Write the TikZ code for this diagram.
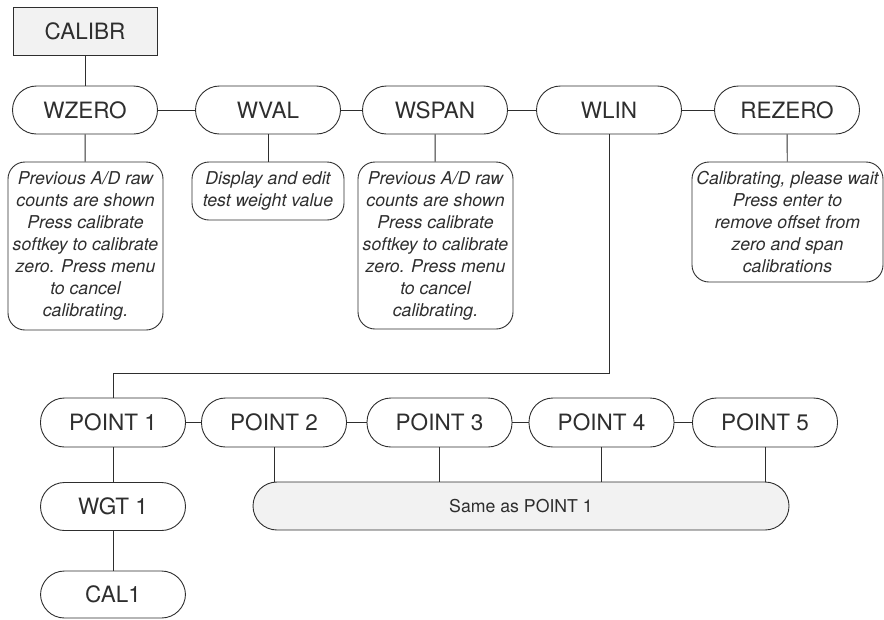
\documentclass[tikz,border=0pt]{standalone}
\usepackage{fontspec}
\setmainfont{TeX Gyre Heros}
\usepackage{xcolor}
\usepackage{tikz}
\usetikzlibrary{positioning,calc}

\definecolor{inkgray}{HTML}{2E2E2E}
\definecolor{boxfill}{HTML}{F2F2F2}

\begin{document}
\begin{tikzpicture}[
    x=1pt, y=-1pt,
    topmenu/.style={
        rectangle,
        draw=inkgray,
        line width=0.9pt,
        fill=boxfill,
        text=inkgray,
        font=\fontsize{22.5}{26}\selectfont,
        minimum height=48pt,
        minimum width=144pt,
        inner sep=0pt
    },
    menu/.style={
        rectangle,
        rounded corners=24pt,
        draw=inkgray,
        line width=0.9pt,
        text=inkgray,
        font=\fontsize{22.5}{26}\selectfont,
        minimum height=48pt,
        minimum width=145pt,
        inner sep=0pt
    },
    note/.style={
        rectangle,
        rounded corners=17pt,
        draw=inkgray,
        line width=0.9pt,
        text=inkgray,
        font=\fontsize{17.7}{22}\selectfont\itshape,
        align=center,
        inner sep=0pt
    },
    link/.style={draw=inkgray, line width=0.9pt}
]

\useasboundingbox (0,0) rectangle (884,619);

% Root
\node[topmenu] (calibr) at (85,31) {CALIBR};

% Calibration menus
\node[menu] (wzero) at (85,110) {WZERO};
\node[menu] (wval) at (268,110) {WVAL};
\node[menu] (wspan) at (435,110) {WSPAN};
\node[menu] (wlin) at (609,110) {WLIN};
\node[menu] (rezero) at (787,110) {REZERO};

\draw[link] (calibr) -- (wzero);
\draw[link] (wzero) -- (wval);
\draw[link] (wval) -- (wspan);
\draw[link] (wspan) -- (wlin);
\draw[link] (wlin) -- (rezero);

% Descriptions
\node[note, minimum width=155pt, minimum height=168pt] (wzeronote) at (85.5,246) {
    Previous A/D raw\\
    counts are shown\\
    Press calibrate\\
    softkey to calibrate\\
    zero. Press menu\\
    to cancel\\
    calibrating.
};
\node[note, minimum width=152pt, minimum height=58pt] (wvalnote) at (268,191) {
    Display and edit\\
    test weight value
};
\node[note, minimum width=155pt, minimum height=167pt] (wspannote) at (435.5,245.5) {
    Previous A/D raw\\
    counts are shown\\
    Press calibrate\\
    softkey to calibrate\\
    zero. Press menu\\
    to cancel\\
    calibrating.
};
\node[note, minimum width=191pt, minimum height=120pt] (rezeronote) at (787.5,222) {
    Calibrating, please wait\\
    Press enter to\\
    remove offset from\\
    zero and span\\
    calibrations
};

\draw[link] (wzero) -- (wzeronote);
\draw[link] (wval) -- (wvalnote);
\draw[link] (wspan) -- (wspannote);
\draw[link] (rezero) -- (rezeronote);

% Linearization points
\node[menu, minimum height=49pt] (pt1) at (113,422.5) {POINT 1};
\node[menu, minimum height=49pt] (pt2) at (274,422.5) {POINT 2};
\node[menu, minimum height=49pt] (pt3) at (439.5,422.5) {POINT 3};
\node[menu, minimum height=49pt] (pt4) at (601.5,422.5) {POINT 4};
\node[menu, minimum height=49pt] (pt5) at (765,422.5) {POINT 5};

\coordinate (bend) at (609,373);
\draw[link] (wlin.south) -- (bend) -| (pt1.north);

\draw[link] (pt1) -- (pt2);
\draw[link] (pt2) -- (pt3);
\draw[link] (pt3) -- (pt4);
\draw[link] (pt4) -- (pt5);

% Point 1 submenus
\node[menu] (wgt1) at (113,506.5) {WGT 1};
\node[menu, minimum height=47pt] (cal1) at (113,594.5) {CAL1};

\draw[link] (pt1) -- (wgt1);
\draw[link] (wgt1) -- (cal1);

% Other points
\node[menu, fill=boxfill, minimum width=536pt,
      font=\fontsize{17.7}{22}\selectfont] (same) at (521,506) {Same as POINT 1};

\draw[link] (pt2.south) -- (pt2.south |- same.north);
\draw[link] (pt3.south) -- (pt3.south |- same.north);
\draw[link] (pt4.south) -- (pt4.south |- same.north);
\draw[link] (pt5.south) -- (pt5.south |- same.north);

\end{tikzpicture}
\end{document}
